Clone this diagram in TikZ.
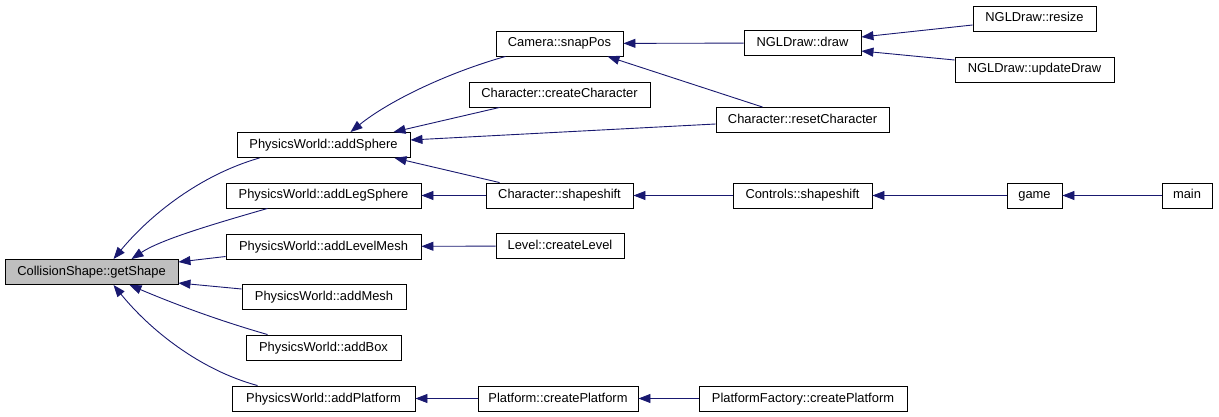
\documentclass[tikz,border=0pt]{standalone}
\usepackage{fontspec}
\setmainfont{Liberation Sans}
\usepackage{xcolor}
\usepackage{tikz}
\usetikzlibrary{arrows.meta}
\definecolor{edgeblue}{HTML}{191970}
\definecolor{curgrey}{HTML}{BFBFBF}

\begin{document}
\begin{tikzpicture}[x=1pt, y=-1pt,
  fn/.style={draw, line width=0.9pt, minimum height=25pt, inner sep=0pt, text height=9.5pt, text depth=2.5pt, font=\fontsize{12.9}{14}\selectfont},
  call/.style={draw=edgeblue, line width=0.9pt, -{Triangle[length=12pt,width=9pt]}}]
\useasboundingbox (0,0) rectangle (1219,417);
\node[fn, fill=curgrey, minimum width=173pt] (gs) at (91.5,272) {CollisionShape::getShape};
\node[fn, minimum width=173pt] (as) at (323.5,145) {PhysicsWorld::addSphere};
\node[fn, minimum width=195pt] (als) at (323.5,195.5) {PhysicsWorld::addLegSphere};
\node[fn, minimum width=195pt] (alm) at (323.5,246.5) {PhysicsWorld::addLevelMesh};
\node[fn, minimum width=164pt] (am) at (324,297) {PhysicsWorld::addMesh};
\node[fn, minimum width=155pt] (ab) at (323.5,347.5) {PhysicsWorld::addBox};
\node[fn, minimum width=183pt] (ap) at (323.5,398.5) {PhysicsWorld::addPlatform};
\node[fn, minimum width=127pt] (sp) at (559.5,43.5) {Camera::snapPos};
\node[fn, minimum width=181pt] (cc) at (559.5,94.5) {Character::createCharacter};
\node[fn, minimum width=173pt] (rc) at (802.5,120) {Character::resetCharacter};
\node[fn, minimum width=147pt] (cs) at (559.5,195.5) {Character::shapeshift};
\node[fn, minimum width=128pt] (cl) at (560,246) {Level::createLevel};
\node[fn, minimum width=160pt] (pcp) at (558,398.5) {Platform::createPlatform};
\node[fn, minimum width=208pt] (pf) at (803,398.5) {PlatformFactory::createPlatform};
\node[fn, minimum width=117pt] (nd) at (802.5,43) {NGLDraw::draw};
\node[fn, minimum width=123pt] (nr) at (1034.5,18.5) {NGLDraw::resize};
\node[fn, minimum width=159pt] (nu) at (1034.5,69.5) {NGLDraw::updateDraw};
\node[fn, minimum width=139pt] (ctl) at (802.5,195.5) {Controls::shapeshift};
\node[fn, minimum width=55pt] (gm) at (1034.5,195.5) {game};
\node[fn, minimum width=50pt] (mn) at (1187,195.5) {main};

% callers of getShape
\draw[call] ([xshift=23pt]as.south west) .. controls (200,175) and (150,215) .. ([xshift=22pt]gs.north);
\draw[call] ([xshift=42pt]als.south west) .. controls (210,225) and (160,240) .. ([xshift=40pt]gs.north);
\draw[call] ([yshift=-10pt]alm.west) -- ([yshift=10pt]gs.east);
\draw[call] ([yshift=8pt]am.west) -- ([yshift=-11pt]gs.east);
\draw[call] ([xshift=22pt]ab.north west) .. controls (210,318) and (165,300) .. ([xshift=38pt]gs.south);
\draw[call] ([xshift=26pt]ap.north west) .. controls (200,370) and (150,330) .. ([xshift=22pt]gs.south);
% second level
\draw[call] ([xshift=10pt]sp.south west) .. controls (450,72) and (390,100) .. ([xshift=27pt]as.north);
\draw[call] ([xshift=31pt]cc.south west) -- ([xshift=70pt]as.north);
\draw[call] ([yshift=-4pt]rc.west) -- ([yshift=5pt]as.east);
\draw[call] ([xshift=14pt]cs.north west) -- ([xshift=71pt]as.south);
\draw[call] (cs) -- (als);
\draw[call] (cl) -- (alm);
\draw[call] (pcp) -- (ap);
\draw[call] (pf) -- (pcp);
% third level and up
\draw[call] (nd) -- (sp);
\draw[call] ([xshift=47pt]rc.north west) -- ([xshift=48pt]sp.south);
\draw[call] ([yshift=-6.5pt]nr.west) -- ([yshift=6pt]nd.east);
\draw[call] ([yshift=9.5pt]nu.west) -- ([yshift=-8pt]nd.east);
\draw[call] (ctl) -- (cs);
\draw[call] (gm) -- (ctl);
\draw[call] (mn) -- (gm);
\end{tikzpicture}
\end{document}
